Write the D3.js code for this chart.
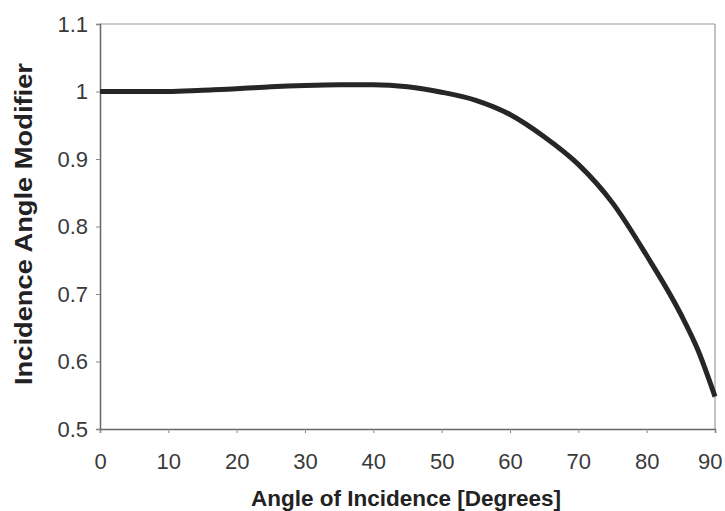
<!DOCTYPE html>
<html><head><meta charset="utf-8">
<script src="https://cdn.jsdelivr.net/npm/d3@7"></script>
<style>body{margin:0;background:#fff}svg{display:block}</style>
</head><body>
<script>
const angles = [0,5,10,15,20,25,30,35,40,45,50,55,60,65,70,75,80,85,87.5,90];
const modifier = [1.000,1.000,1.000,1.002,1.004,1.007,1.009,1.010,1.010,1.007,0.999,0.987,0.966,0.933,0.892,0.835,0.757,0.670,0.617,0.548];
const xTicks = [0,10,20,30,40,50,60,70,80,90];
const yTicks = [0.5,0.6,0.7,0.8,0.9,1.0,1.1];
const xTitle = "Angle of Incidence [Degrees]";
const yTitle = "Incidence Angle Modifier";

const W=725,H=511;
const m={left:100,top:24,right:10,bottom:82};
const FONT="'Liberation Sans',Arial,sans-serif";
const svg=d3.select("body").append("svg").attr("width",W).attr("height",H);
const x=d3.scaleLinear().domain([0,90]).range([m.left,W-m.right]);
const y=d3.scaleLinear().domain([0.5,1.1]).range([H-m.bottom,m.top]);

// frame top/right
svg.append("line").attr("x1",x(0)).attr("x2",x(90)).attr("y1",y(1.1)).attr("y2",y(1.1)).attr("stroke","#9a9a9a").attr("stroke-width",1.2);
svg.append("line").attr("x1",x(90)).attr("x2",x(90)).attr("y1",y(1.1)).attr("y2",y(0.5)).attr("stroke","#9a9a9a").attr("stroke-width",1.2);

const fmtY=d=>d===1?"1":d3.format(".1f")(d);
const gy=svg.append("g").attr("transform",`translate(${m.left},0)`)
  .call(d3.axisLeft(y).tickValues(yTicks).tickFormat(fmtY).tickSize(4).tickPadding(8));
const gx=svg.append("g").attr("transform",`translate(0,${H-m.bottom})`)
  .call(d3.axisBottom(x).tickValues(xTicks).tickSize(4).tickPadding(20));
[gx,gy].forEach(g=>{
  g.select(".domain").attr("stroke","#666").attr("stroke-width",1.5);
  g.selectAll(".tick line").attr("stroke","#888");
  g.selectAll("text").attr("font-family",FONT).attr("font-size",22).attr("fill","#3a3a3a");
});
// keep the last x label inside the picture, as in the reference
gx.selectAll(".tick").filter(d=>d===90).select("text").attr("text-anchor","end").attr("x",7);

svg.append("path").datum(angles.map((a,i)=>[a,modifier[i]]))
  .attr("d",d3.line().x(d=>x(d[0])).y(d=>y(d[1])).curve(d3.curveMonotoneX))
  .attr("fill","none").attr("stroke","#262626").attr("stroke-width",5).attr("stroke-linecap","butt");

svg.append("text").attr("x",406).attr("y",506).attr("text-anchor","middle")
  .attr("font-family",FONT).attr("font-weight","bold").attr("font-size",22.5).attr("fill","#222").text(xTitle);
svg.append("text").attr("transform",`translate(32,224) rotate(-90)`).attr("text-anchor","middle")
  .attr("font-family",FONT).attr("font-weight","bold").attr("font-size",24).attr("fill","#222")
  .attr("textLength",322).attr("lengthAdjust","spacingAndGlyphs").text(yTitle);
</script>
</body></html>
